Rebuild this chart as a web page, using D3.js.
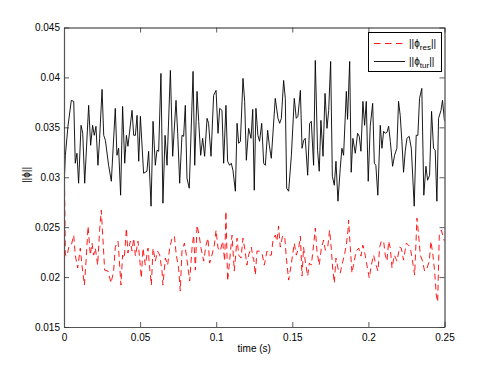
<!DOCTYPE html>
<html>
<head>
<meta charset="utf-8">
<script src="https://cdn.jsdelivr.net/npm/d3@7"></script>
<style>
  html, body { margin: 0; padding: 0; background: #fff; }
  svg { display: block; }
  text { font-family: "Liberation Sans", Arial, Helvetica, sans-serif; fill: #000; }
</style>
</head>
<body>
<svg id="chart" width="491" height="368"></svg>
<script>
// ---- data ----
const xTicks = [0, 0.05, 0.1, 0.15, 0.2, 0.25];
const xTickLabels = ["0", "0.05", "0.1", "0.15", "0.2", "0.25"];
const yTicks = [0.015, 0.02, 0.025, 0.03, 0.035, 0.04, 0.045];
const yTickLabels = ["0.015", "0.02", "0.025", "0.03", "0.035", "0.04", "0.045"];
const xLabel = "time (s)";
const seriesNames = ["res", "tur"];

// ||phi_tur|| (solid black)
const timeTur = [
  0,0.0009,0.0026,0.0048,0.0064,0.0074,0.0085,0.0096,0.0112,0.0123,0.0136,0.0162,0.0175,0.0188,0.0199,0.0210,0.0223,0.0234,0.0250,0.0261,0.0272,0.0293,0.0311,0.0337,0.0348,0.0359,0.0372,0.0385,0.0399,0.0410,0.0420,0.0447,0.0458,0.0469,0.0480,0.0491,0.0502,0.0523,0.0545,0.0556,0.0572,0.0585,0.0600,0.0611,
  0.0622,0.0637,0.0650,0.0664,0.0677,0.0699,0.0714,0.0736,0.0747,0.0760,0.0775,0.0786,0.0797,0.0808,0.0823,0.0848,0.0859,0.0874,0.0885,0.0898,0.0911,0.0924,0.0940,0.0950,0.0966,0.0983,0.0999,0.1012,0.1023,0.1038,0.1049,0.1064,0.1075,0.1088,0.1099,0.1110,0.1126,0.1137,0.1148,0.1159,0.1176,0.1187,0.1198,0.1213,0.1229,0.1240,
  0.1250,0.1261,0.1274,0.1285,0.1299,0.1312,0.1323,0.1338,0.1349,0.1362,0.1388,0.1406,0.1417,0.1428,0.1443,0.1454,0.1463,0.1476,0.1494,0.1513,0.1526,0.1537,0.1553,0.1564,0.1575,0.1585,0.1601,0.1614,0.1625,0.1640,0.1651,0.1666,0.1677,0.1688,0.1702,0.1715,0.1728,0.1739,0.1752,0.1763,0.1776,0.1787,0.1800,0.1815,0.1826,0.1837,0.1855,0.1863,
  0.1877,0.1887,0.1898,0.1914,0.1929,0.1940,0.1951,0.1964,0.1975,0.1986,0.1999,0.2012,0.2028,0.2039,0.2049,0.2062,0.2078,0.2089,0.2100,0.2111,0.2122,0.2133,0.2144,0.2159,0.2172,0.2187,0.2198,0.2209,0.2220,0.2231,0.2242,0.2253,0.2268,0.2282,0.2301,0.2314,0.2325,0.2336,0.2351,0.2364,0.2378,0.2389,0.2402,0.2415,0.2428,0.2439,0.2450,0.2461,0.2477,0.2487,0.2500
];
const phiTur = [
  0.0290,0.0322,0.0351,0.0377,0.0376,0.0314,0.0324,0.0294,0.0352,0.0344,0.0294,0.0372,0.0332,0.0352,0.0342,0.0351,0.0312,0.0339,0.0388,0.0342,0.0337,0.0312,0.0296,0.0369,0.0322,0.0329,0.0282,0.0371,0.0314,0.0342,0.0331,0.0367,0.0342,0.0342,0.0362,0.0316,0.0361,0.0304,0.0306,0.0326,0.0271,0.0356,0.0312,0.0327,
  0.0326,0.0404,0.0274,0.0342,0.0312,0.0407,0.0321,0.0377,0.0344,0.0294,0.0342,0.0341,0.0372,0.0299,0.0289,0.0406,0.0312,0.0386,0.0356,0.0322,0.0339,0.0321,0.0359,0.0354,0.0321,0.0382,0.0387,0.0344,0.0369,0.0367,0.0314,0.0372,0.0316,0.0312,0.0314,0.0307,0.0286,0.0354,0.0334,0.0336,0.0399,0.0376,0.0317,0.0349,0.0339,0.0368,
  0.0287,0.0369,0.0342,0.0336,0.0354,0.0314,0.0312,0.0347,0.0332,0.0319,0.0379,0.0359,0.0354,0.0359,0.0397,0.0379,0.0289,0.0286,0.0322,0.0379,0.0359,0.0361,0.0387,0.0329,0.0337,0.0339,0.0302,0.0354,0.0356,0.0312,0.0417,0.0327,0.0306,0.0357,0.0321,0.0384,0.0349,0.0367,0.0416,0.0301,0.0292,0.0316,0.0276,0.0309,0.0329,0.0322,0.0386,0.0358,
  0.0416,0.0305,0.0339,0.0324,0.0344,0.0341,0.0326,0.0376,0.0352,0.0376,0.0296,0.0351,0.0374,0.0314,0.0312,0.0282,0.0352,0.0329,0.0346,0.0344,0.0345,0.0351,0.0336,0.0311,0.0322,0.0329,0.0376,0.0362,0.0336,0.0305,0.0326,0.0339,0.0341,0.0329,0.0271,0.0342,0.0342,0.0379,0.0389,0.0282,0.0311,0.0297,0.0302,0.0366,0.0329,0.0327,0.0276,0.0359,0.0367,0.0377,0.0356
];

// ||phi_res|| (red dashed)
const timeRes = [
  0,0.0009,0.0020,0.0031,0.0048,0.0064,0.0074,0.0090,0.0107,0.0118,0.0134,0.0145,0.0158,0.0173,0.0184,0.0195,0.0206,0.0221,0.0234,0.0245,0.0258,0.0267,0.0289,0.0309,0.0326,0.0337,0.0355,0.0364,0.0374,0.0385,0.0396,0.0410,0.0420,0.0436,0.0447,0.0458,0.0469,0.0486,0.0497,0.0508,0.0519,0.0534,0.0552,0.0563,0.0574,0.0585,0.0600,0.0615,
  0.0629,0.0644,0.0650,0.0666,0.0681,0.0694,0.0710,0.0725,0.0738,0.0753,0.0764,0.0775,0.0791,0.0804,0.0815,0.0826,0.0841,0.0852,0.0863,0.0874,0.0889,0.0900,0.0918,0.0933,0.0946,0.0957,0.0972,0.0988,0.0999,0.1012,0.1027,0.1042,0.1056,0.1064,0.1075,0.1088,0.1104,0.1119,0.1137,0.1148,0.1163,0.1176,0.1187,0.1202,0.1213,0.1231,0.1242,
  0.1246,0.1257,0.1268,0.1283,0.1301,0.1316,0.1334,0.1349,0.1362,0.1373,0.1388,0.1399,0.1410,0.1421,0.1436,0.1450,0.1461,0.1476,0.1489,0.1502,0.1513,0.1526,0.1542,0.1553,0.1564,0.1574,0.1585,0.1601,0.1612,0.1625,0.1640,0.1651,0.1662,0.1677,0.1691,0.1706,0.1717,0.1732,0.1745,0.1756,0.1765,0.1776,0.1787,0.1804,0.1815,0.1826,0.1842,0.1855,0.1866,
  0.1870,0.1881,0.1892,0.1907,0.1920,0.1936,0.1951,0.1964,0.1979,0.1990,0.2006,0.2019,0.2034,0.2050,0.2063,0.2074,0.2085,0.2100,0.2111,0.2122,0.2133,0.2144,0.2155,0.2170,0.2188,0.2205,0.2216,0.2231,0.2249,0.2264,0.2275,0.2290,0.2304,0.2319,0.2330,0.2341,0.2356,0.2369,0.2385,0.2400,0.2411,0.2424,0.2435,0.2446,0.2455,0.2466,0.2479,0.2500
];
const phiRes = [
  0.0337,0.0222,0.0221,0.0230,0.0232,0.0242,0.0222,0.0209,0.0229,0.0212,0.0192,0.0216,0.0251,0.0222,0.0234,0.0222,0.0229,0.0212,0.0247,0.0267,0.0232,0.0207,0.0206,0.0194,0.0206,0.0230,0.0236,0.0216,0.0192,0.0222,0.0219,0.0249,0.0224,0.0236,0.0226,0.0239,0.0221,0.0236,0.0219,0.0199,0.0229,0.0212,0.0229,0.0209,0.0192,0.0229,0.0216,0.0226,
  0.0222,0.0206,0.0192,0.0219,0.0212,0.0229,0.0239,0.0241,0.0222,0.0209,0.0186,0.0226,0.0234,0.0222,0.0209,0.0196,0.0229,0.0242,0.0207,0.0252,0.0241,0.0229,0.0216,0.0232,0.0239,0.0214,0.0222,0.0232,0.0247,0.0229,0.0226,0.0236,0.0216,0.0266,0.0196,0.0216,0.0242,0.0206,0.0239,0.0222,0.0219,0.0239,0.0229,0.0212,0.0222,0.0230,0.0219,
  0.0219,0.0202,0.0226,0.0226,0.0224,0.0212,0.0226,0.0222,0.0222,0.0237,0.0242,0.0236,0.0251,0.0230,0.0241,0.0241,0.0219,0.0197,0.0209,0.0222,0.0234,0.0222,0.0229,0.0241,0.0201,0.0230,0.0216,0.0201,0.0214,0.0212,0.0232,0.0249,0.0226,0.0212,0.0229,0.0237,0.0227,0.0229,0.0247,0.0229,0.0209,0.0194,0.0219,0.0206,0.0204,0.0212,0.0222,0.0232,0.0247,
  0.0257,0.0230,0.0204,0.0216,0.0226,0.0229,0.0221,0.0232,0.0222,0.0212,0.0199,0.0212,0.0222,0.0212,0.0206,0.0230,0.0236,0.0236,0.0222,0.0216,0.0236,0.0229,0.0209,0.0222,0.0216,0.0230,0.0229,0.0217,0.0234,0.0232,0.0230,0.0216,0.0202,0.0259,0.0242,0.0222,0.0216,0.0206,0.0209,0.0216,0.0236,0.0222,0.0206,0.0182,0.0175,0.0242,0.0247,0.0236
];

// ---- drawing ----
const svg = d3.select("#chart");
const L = 64, R = 444.5, T = 27.5, B = 327;
const x = d3.scaleLinear().domain([0, 0.25]).range([L, R]);
const y = d3.scaleLinear().domain([0.015, 0.045]).range([B, T]);

const zip = (ts, vs) => d3.range(Math.min(ts.length, vs.length)).map(i => [ts[i], vs[i]]);
const line = d3.line().x(d => x(d[0])).y(d => y(d[1]));

svg.append("defs").append("clipPath").attr("id", "clip")
  .append("rect").attr("x", L).attr("y", T).attr("width", R - L).attr("height", B - T);

const plot = svg.append("g").attr("clip-path", "url(#clip)");
plot.append("path").datum(zip(timeRes, phiRes))
  .attr("d", line).attr("fill", "none").attr("stroke", "#ff0000")
  .attr("stroke-width", 0.9).attr("stroke-dasharray", "6,4");
plot.append("path").datum(zip(timeTur, phiTur))
  .attr("d", line).attr("fill", "none").attr("stroke", "#000")
  .attr("stroke-width", 0.9).attr("stroke-linejoin", "round");

// axes (ticks inward, mirrored)
const tl = 5;
const fmtX = (d, i) => xTickLabels[i];
const fmtY = (d, i) => yTickLabels[i];
const gB = svg.append("g").attr("transform", `translate(0,${B})`)
  .call(d3.axisBottom(x).tickValues(xTicks).tickFormat(fmtX).tickSizeInner(-tl).tickSizeOuter(0).tickPadding(7));
const gT = svg.append("g").attr("transform", `translate(0,${T})`)
  .call(d3.axisTop(x).tickValues(xTicks).tickFormat("").tickSizeInner(-tl).tickSizeOuter(0));
const gL = svg.append("g").attr("transform", `translate(${L},0)`)
  .call(d3.axisLeft(y).tickValues(yTicks).tickFormat(fmtY).tickSizeInner(-tl).tickSizeOuter(0).tickPadding(4));
const gR = svg.append("g").attr("transform", `translate(${R},0)`)
  .call(d3.axisRight(y).tickValues(yTicks).tickFormat("").tickSizeInner(-tl).tickSizeOuter(0));
[gB, gT, gL, gR].forEach(g => {
  g.select(".domain").attr("stroke", "#222").attr("stroke-width", 1);
  g.selectAll(".tick line").attr("stroke", "#333").attr("stroke-width", 0.8);
  g.selectAll("text").attr("font-size", 10).attr("font-family", "Liberation Sans, Arial, sans-serif").attr("fill", "#000");
});
gL.select(".domain").attr("stroke", "#555").attr("stroke-width", 1.2);
gB.select(".domain").attr("stroke", "#555").attr("stroke-width", 1.2);

// axis labels
svg.append("text").attr("x", (L + R) / 2).attr("y", 352).attr("text-anchor", "middle")
  .attr("font-size", 10).text(xLabel);
const yl = svg.append("text").attr("transform", `translate(30,175) rotate(-90)`)
  .attr("text-anchor", "middle").attr("font-size", 10);
yl.append("tspan").text("||\u03D5||");

// legend
const lg = svg.append("g");
lg.append("rect").attr("x", 368.5).attr("y", 32.5).attr("width", 73).attr("height", 39)
  .attr("fill", "#fff").attr("stroke", "#000").attr("stroke-width", 1);
const entries = [
  {name: seriesNames[0], color: "#ff0000", dash: "6.5,4.5", yy: 43.5},
  {name: seriesNames[1], color: "#000", dash: null, yy: 61.5}
];
entries.forEach(e => {
  lg.append("line").attr("x1", 374).attr("x2", 405).attr("y1", e.yy).attr("y2", e.yy)
    .attr("stroke", e.color).attr("stroke-width", 0.9).attr("stroke-dasharray", e.dash);
  const t = lg.append("text").attr("x", 409).attr("y", e.yy + 3.5).attr("font-size", 10);
  t.append("tspan").text("||\u03D5");
  t.append("tspan").attr("font-size", 8).attr("dy", 3).text(e.name);
  t.append("tspan").attr("dy", -3).text("||");
});
</script>
</body>
</html>
